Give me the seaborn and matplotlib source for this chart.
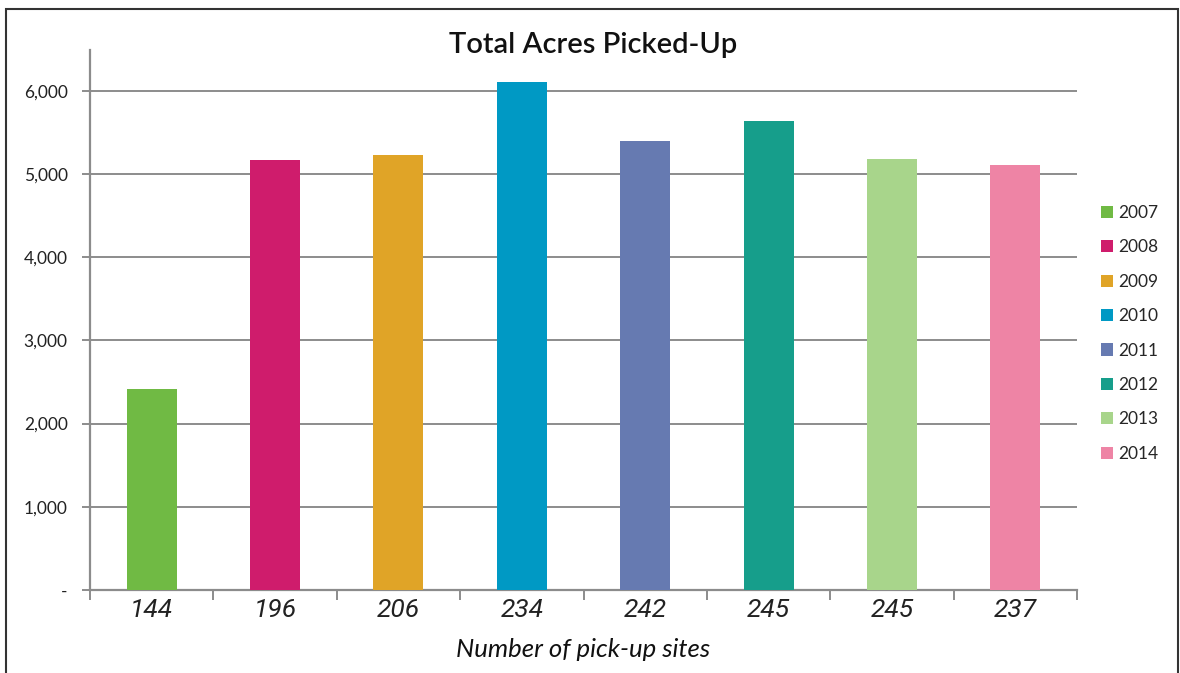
import matplotlib
matplotlib.use("Agg")
import matplotlib.pyplot as plt
from matplotlib.patches import Patch, Rectangle
import seaborn as sns
import pandas as pd

years = ["2007", "2008", "2009", "2010", "2011", "2012", "2013", "2014"]
acres = [2420, 5170, 5230, 6100, 5400, 5640, 5180, 5110]
sites = ["144", "196", "206", "234", "242", "245", "245", "237"]
colors = ["#70BA44", "#CF1C6C", "#E0A427", "#0099C4",
          "#667AB1", "#169E8B", "#A8D58B", "#EE84A5"]
yticks = [0, 1000, 2000, 3000, 4000, 5000, 6000]

sns.set_theme(style="white")
plt.rcParams["font.family"] = ["Lato", "DejaVu Sans"]

df = pd.DataFrame({"year": years, "acres": acres})

fig = plt.figure(figsize=(11.8, 6.73), dpi=100)
ax = fig.add_axes([90 / 1180, 1 - 590 / 673, (1077 - 90) / 1180, (590 - 50) / 673])

sns.barplot(data=df, x="year", y="acres", hue="year", palette=colors,
            width=0.405, saturation=1, linewidth=0, legend=False, ax=ax,
            zorder=3)

grid_c = "#8c8c8c"
ax.set_ylim(0, 6490)
ax.set_xlim(-0.5, len(years) - 0.5)
ax.set_yticks(yticks)
ax.set_yticklabels(["-" if v == 0 else f"{v:,}" for v in yticks],
                   fontsize=12.5, color="#222222")
for v in yticks[1:]:
    ax.axhline(v, color=grid_c, lw=1.4, zorder=1)

# category boundaries carry tick marks, centres carry the labels
ax.set_xticks([i - 0.5 for i in range(len(years) + 1)])
ax.set_xticklabels([])
ax.set_xticks(range(len(years)), minor=True)
ax.set_xticklabels(sites, minor=True, fontsize=19, style="italic",
                   family=["Roboto", "DejaVu Sans"], color="#222222")
ax.tick_params(axis="x", which="major", direction="out", length=7,
               width=1.4, color=grid_c, bottom=True)
ax.tick_params(axis="x", which="minor", length=0, pad=6)
ax.tick_params(axis="y", direction="out", length=6, width=1.4,
               color=grid_c, left=True, pad=10)

ax.set_xlabel("Number of pick-up sites", fontsize=18.5, style="italic",
              color="#111111", labelpad=11)
ax.set_ylabel("")

for side in ["top", "right"]:
    ax.spines[side].set_visible(False)
for side in ["left", "bottom"]:
    ax.spines[side].set_color(grid_c)
    ax.spines[side].set_linewidth(1.6)

fig.text(593 / 1180, 1 - 45 / 673, "Total Acres Picked-Up", ha="center",
         va="center", fontsize=21, fontweight="semibold", color="#111111")

handles = [Patch(facecolor=c, edgecolor="none") for c in colors]
fig.legend(handles, years, loc="upper left",
           bbox_to_anchor=(1101 / 1180, 1 - 205 / 673), frameon=False,
           fontsize=12.5, handlelength=0.7, handleheight=0.7,
           handletextpad=0.3, labelspacing=1.06, borderpad=0,
           borderaxespad=0)

fig.patches.append(Rectangle((6 / 1180, -0.05), (1178 - 6) / 1180,
                             1.05 - 9 / 673, transform=fig.transFigure,
                             fill=False, edgecolor="#333333", lw=1.5))

fig.savefig("out.png", dpi=100)
